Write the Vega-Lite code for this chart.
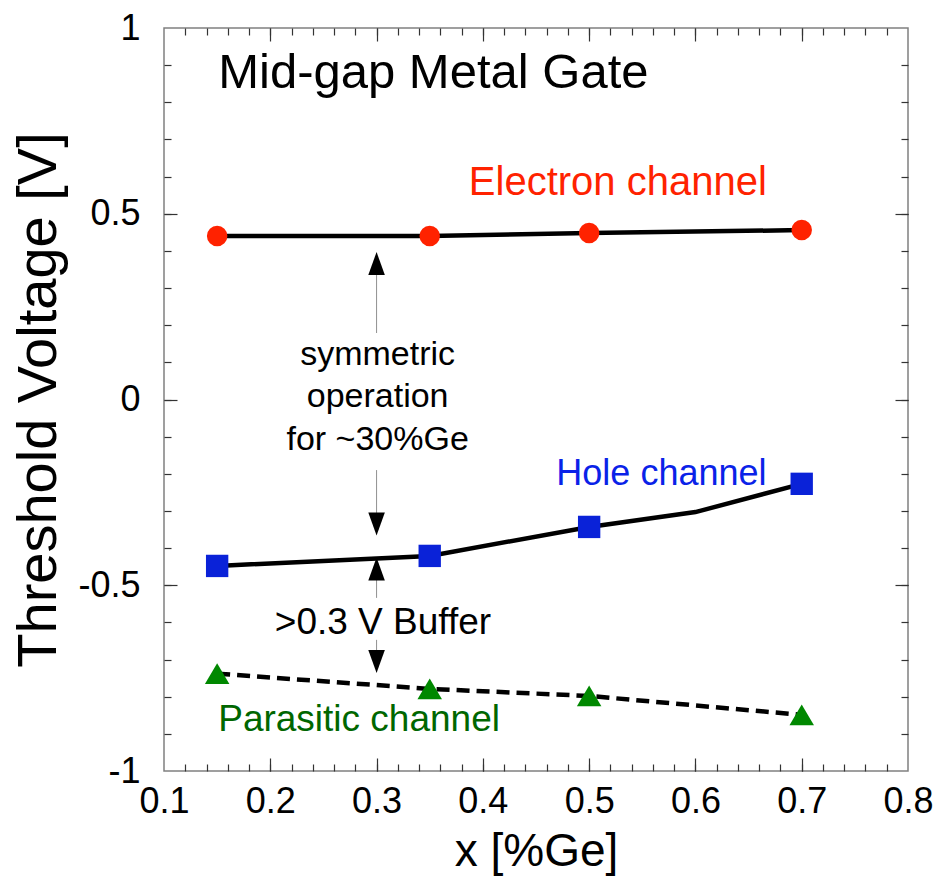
{
  "$schema": "https://vega.github.io/schema/vega-lite/v6.json",
  "width": 744,
  "height": 743,
  "autosize": {"type": "none"},
  "padding": {"left": 164, "top": 28, "right": 43, "bottom": 110},
  "background": "white",
  "config": {
    "font": "Liberation Sans",
    "view": {"stroke": "#808080", "strokeWidth": 1.5},
    "axis": {"grid": false, "domain": false, "labelFlush": false, "labelOverlap": false, "tickColor": "#333333", "tickWidth": 1.2, "labelColor": "black", "titleColor": "black", "labelFont": "Liberation Sans", "titleFont": "Liberation Sans", "titleFontWeight": "normal"}
  },
  "datasets": {
    "lines": [
      {"series": "Electron", "x": 0.15, "y": 0.44},
      {"series": "Electron", "x": 0.35, "y": 0.44},
      {"series": "Electron", "x": 0.5, "y": 0.448},
      {"series": "Electron", "x": 0.7, "y": 0.456},
      {"series": "Hole", "x": 0.15, "y": -0.448},
      {"series": "Hole", "x": 0.3, "y": -0.428},
      {"series": "Hole", "x": 0.35, "y": -0.421},
      {"series": "Hole", "x": 0.5, "y": -0.343},
      {"series": "Hole", "x": 0.6, "y": -0.303},
      {"series": "Hole", "x": 0.7, "y": -0.227}
    ],
    "parasitic": [
      {"x": 0.15, "y": -0.738},
      {"x": 0.35, "y": -0.779},
      {"x": 0.5, "y": -0.798},
      {"x": 0.7, "y": -0.849}
    ],
    "electron": [
      {"x": 0.15, "y": 0.44},
      {"x": 0.35, "y": 0.44},
      {"x": 0.5, "y": 0.448},
      {"x": 0.7, "y": 0.456}
    ],
    "hole": [
      {"x": 0.15, "y": -0.448},
      {"x": 0.35, "y": -0.421},
      {"x": 0.5, "y": -0.343},
      {"x": 0.7, "y": -0.227}
    ],
    "shafts": [
      {"x": 0.3, "y": 0.179, "y2": 0.34},
      {"x": 0.3, "y": -0.19, "y2": -0.32},
      {"x": 0.3, "y": -0.534, "y2": -0.47},
      {"x": 0.3, "y": -0.647, "y2": -0.69}
    ],
    "heads_up": [
      {"x": 0.3, "y": 0.366},
      {"x": 0.3, "y": -0.456}
    ],
    "heads_down": [
      {"x": 0.3, "y": -0.335},
      {"x": 0.3, "y": -0.705}
    ],
    "black_center": [
      {"x": 0.301, "y": 0.12, "label": "symmetric", "size": 34},
      {"x": 0.301, "y": 0.007, "label": "operation", "size": 34},
      {"x": 0.301, "y": -0.109, "label": "for ~30%Ge", "size": 34},
      {"x": 0.306, "y": -0.601, "label": ">0.3 V Buffer", "size": 37}
    ]
  },
  "layer": [
    {
      "data": {"name": "lines"},
      "mark": {"type": "line", "color": "black", "strokeWidth": 4.5},
      "encoding": {
        "x": {"field": "x", "type": "quantitative", "scale": {"domain": [0.1, 0.8], "nice": false, "zero": false},
              "axis": {"values": [0.1, 0.2, 0.3, 0.4, 0.5, 0.6, 0.7, 0.8], "format": ".1f", "ticks": false, "labelFontSize": 36, "labelPadding": 13, "title": "x [%Ge]", "titleFontSize": 46, "titlePadding": 10}},
        "y": {"field": "y", "type": "quantitative", "scale": {"domain": [-1, 1], "nice": false, "zero": false},
              "axis": {"values": [-1, -0.5, 0, 0.5, 1], "labelExpr": "replace(format(datum.value, '~g'), '\u2212', '-')", "ticks": false, "labelFontSize": 36, "labelPadding": 24, "title": "Threshold Voltage [V]", "titleFontSize": 56, "titlePadding": 10}},
        "detail": {"field": "series"}
      }
    },
    {
      "data": {"name": "parasitic"},
      "mark": {"type": "line", "color": "black", "strokeWidth": 4.5, "strokeDash": [13, 7]},
      "encoding": {
        "x": {"field": "x", "type": "quantitative", "scale": {"domain": [0.1, 0.8], "nice": false, "zero": false},
              "axis": {"orient": "bottom", "values": [0.12, 0.14, 0.16, 0.18, 0.2, 0.22, 0.24, 0.26, 0.28, 0.3, 0.32, 0.34, 0.36, 0.38, 0.4, 0.42, 0.44, 0.46, 0.48, 0.5, 0.52, 0.54, 0.56, 0.58, 0.6, 0.62, 0.64, 0.66, 0.68, 0.7, 0.72, 0.74, 0.76, 0.78], "labels": false, "tickSize": -7, "title": null}},
        "y": {"field": "y", "type": "quantitative", "scale": {"domain": [-1, 1], "nice": false, "zero": false},
              "axis": {"orient": "left", "values": [-0.9, -0.8, -0.7, -0.6, -0.5, -0.4, -0.3, -0.2, -0.1, 0, 0.1, 0.2, 0.3, 0.4, 0.5, 0.6, 0.7, 0.8, 0.9], "labels": false, "tickSize": -7, "title": null}}
      }
    },
    {
      "data": {"name": "electron"},
      "mark": {"type": "point", "shape": "circle", "filled": true, "color": "#FF2200", "opacity": 1, "size": 420},
      "encoding": {
        "x": {"field": "x", "type": "quantitative", "scale": {"domain": [0.1, 0.8], "nice": false, "zero": false},
              "axis": {"orient": "bottom", "values": [0.2, 0.3, 0.4, 0.5, 0.6, 0.7], "labels": false, "tickSize": -13, "title": null}},
        "y": {"field": "y", "type": "quantitative", "scale": {"domain": [-1, 1], "nice": false, "zero": false},
              "axis": {"orient": "left", "values": [-0.5, 0, 0.5], "labels": false, "tickSize": -13, "title": null}}
      }
    },
    {
      "data": {"name": "hole"},
      "mark": {"type": "point", "shape": "square", "filled": true, "color": "#0A22D8", "opacity": 1, "size": 500},
      "encoding": {
        "x": {"field": "x", "type": "quantitative", "scale": {"domain": [0.1, 0.8], "nice": false, "zero": false},
              "axis": {"orient": "top", "values": [0.12, 0.14, 0.16, 0.18, 0.2, 0.22, 0.24, 0.26, 0.28, 0.3, 0.32, 0.34, 0.36, 0.38, 0.4, 0.42, 0.44, 0.46, 0.48, 0.5, 0.52, 0.54, 0.56, 0.58, 0.6, 0.62, 0.64, 0.66, 0.68, 0.7, 0.72, 0.74, 0.76, 0.78], "labels": false, "tickSize": -7, "title": null}},
        "y": {"field": "y", "type": "quantitative", "scale": {"domain": [-1, 1], "nice": false, "zero": false},
              "axis": {"orient": "right", "values": [-0.9, -0.8, -0.7, -0.6, -0.5, -0.4, -0.3, -0.2, -0.1, 0, 0.1, 0.2, 0.3, 0.4, 0.5, 0.6, 0.7, 0.8, 0.9], "labels": false, "tickSize": -7, "title": null}}
      }
    },
    {
      "data": {"name": "parasitic"},
      "mark": {"type": "point", "shape": "M-1,0.85L0,-0.85L1,0.85Z", "filled": true, "color": "#008800", "opacity": 1, "size": 600},
      "encoding": {
        "x": {"field": "x", "type": "quantitative", "scale": {"domain": [0.1, 0.8], "nice": false, "zero": false},
              "axis": {"orient": "top", "values": [0.2, 0.3, 0.4, 0.5, 0.6, 0.7], "labels": false, "tickSize": -13, "title": null}},
        "y": {"field": "y", "type": "quantitative", "scale": {"domain": [-1, 1], "nice": false, "zero": false},
              "axis": {"orient": "right", "values": [-0.5, 0, 0.5], "labels": false, "tickSize": -13, "title": null}}
      }
    },
    {
      "data": {"name": "shafts"},
      "mark": {"type": "rule", "color": "#909090", "strokeWidth": 1},
      "encoding": {
        "x": {"field": "x", "type": "quantitative", "axis": null},
        "y": {"field": "y", "type": "quantitative", "axis": null},
        "y2": {"field": "y2"}
      }
    },
    {
      "data": {"name": "heads_up"},
      "mark": {"type": "point", "shape": "M-0.72,1L0,-1L0.72,1Z", "filled": true, "color": "black", "opacity": 1, "size": 529},
      "encoding": {
        "x": {"field": "x", "type": "quantitative", "axis": null},
        "y": {"field": "y", "type": "quantitative", "axis": null}
      }
    },
    {
      "data": {"name": "heads_down"},
      "mark": {"type": "point", "shape": "M-0.72,-1L0,1L0.72,-1Z", "filled": true, "color": "black", "opacity": 1, "size": 529},
      "encoding": {
        "x": {"field": "x", "type": "quantitative", "axis": null},
        "y": {"field": "y", "type": "quantitative", "axis": null}
      }
    },
    {
      "data": {"name": "black_center"},
      "mark": {"type": "text", "color": "black", "align": "center", "baseline": "middle"},
      "encoding": {
        "x": {"field": "x", "type": "quantitative", "axis": null},
        "y": {"field": "y", "type": "quantitative", "axis": null},
        "text": {"field": "label"},
        "size": {"field": "size", "type": "quantitative", "scale": null}
      }
    },
    {
      "data": {"values": [{"x": 0.151, "y": 0.879, "label": "Mid-gap Metal Gate"}]},
      "mark": {"type": "text", "fontSize": 49, "color": "black", "align": "left", "baseline": "middle"},
      "encoding": {
        "x": {"field": "x", "type": "quantitative", "axis": null},
        "y": {"field": "y", "type": "quantitative", "axis": null},
        "text": {"field": "label"}
      }
    },
    {
      "data": {"values": [{"x": 0.527, "y": 0.583, "label": "Electron channel"}]},
      "mark": {"type": "text", "fontSize": 40, "color": "#FF2200", "align": "center", "baseline": "middle"},
      "encoding": {
        "x": {"field": "x", "type": "quantitative", "axis": null},
        "y": {"field": "y", "type": "quantitative", "axis": null},
        "text": {"field": "label"}
      }
    },
    {
      "data": {"values": [{"x": 0.568, "y": -0.2, "label": "Hole channel"}]},
      "mark": {"type": "text", "fontSize": 36, "color": "#0A22E8", "align": "center", "baseline": "middle"},
      "encoding": {
        "x": {"field": "x", "type": "quantitative", "axis": null},
        "y": {"field": "y", "type": "quantitative", "axis": null},
        "text": {"field": "label"}
      }
    },
    {
      "data": {"values": [{"x": 0.151, "y": -0.863, "label": "Parasitic channel"}]},
      "mark": {"type": "text", "fontSize": 37, "color": "#006600", "align": "left", "baseline": "middle"},
      "encoding": {
        "x": {"field": "x", "type": "quantitative", "axis": null},
        "y": {"field": "y", "type": "quantitative", "axis": null},
        "text": {"field": "label"}
      }
    }
  ],
  "resolve": {"axis": {"x": "independent", "y": "independent"}}
}
